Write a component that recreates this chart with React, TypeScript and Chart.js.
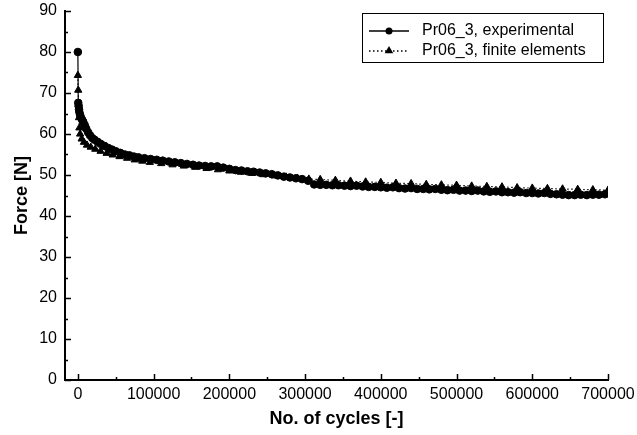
import React, { useEffect, useRef } from 'react';
import { Chart, registerables } from 'chart.js';

Chart.register(...registerables);

const seriesNames = ['Pr06_3, experimental', 'Pr06_3, finite elements'];

const expCycles = [
  0, 500, 1000, 1500, 2000, 3000, 4000, 5500, 7000, 9000, 11000, 13500, 16000, 19000, 22000, 26000,
  30000, 35000, 40000, 45000, 50000, 56000, 62000, 68000, 74000, 80000, 88000, 96000, 104000, 112000,
  120000, 128000, 136000, 144000, 152000, 160000, 168000, 176000, 184000, 192000, 200000, 208000,
  216000, 224000, 232000, 240000, 248000, 256000, 264000, 272000, 280000, 288000, 296000, 304000,
  312000, 320000, 328000, 336000, 344000, 352000, 360000, 368000, 376000, 384000, 392000, 400000,
  408000, 416000, 424000, 432000, 440000, 448000, 456000, 464000, 472000, 480000, 488000, 496000,
  504000, 512000, 520000, 528000, 536000, 544000, 552000, 560000, 568000, 576000, 584000, 592000,
  600000, 608000, 616000, 624000, 632000, 640000, 648000, 656000, 664000, 672000, 680000, 688000, 696000,
];
const expForce = [
  80, 67.6, 66.8, 66, 65.3, 64.6, 64, 63.5, 63, 62.2, 61.3, 60.4, 59.7, 59, 58.6, 58.1,
  57.6, 57.1, 56.6, 56.2, 55.8, 55.4, 55, 54.8, 54.5, 54.3, 54.1, 53.9, 53.7, 53.5,
  53.3, 53.1, 52.9, 52.7, 52.5, 52.3, 52.2, 52.1, 52.1, 51.8, 51.5, 51.2,
  51.1, 50.9, 50.8, 50.6, 50.4, 50.2, 49.9, 49.6, 49.4, 49.2, 49, 48.6,
  47.7, 47.6, 47.6, 47.5, 47.5, 47.4, 47.3, 47.4, 47.2, 47.1, 47.1, 47,
  46.9, 47, 46.8, 46.7, 46.8, 46.6, 46.6, 46.5, 46.6, 46.4, 46.3, 46.4,
  46.2, 46.2, 46.1, 46.2, 46, 45.9, 46, 45.8, 45.8, 45.7, 45.8, 45.6,
  45.6, 45.5, 45.6, 45.4, 45.3, 45.2, 45.1, 45.1, 45.2, 45.1, 45.2, 45.2, 45.3,
];

const feCycles = [
  0, 500, 1000, 1500, 2000, 3000, 5000, 8000, 12000, 17000, 23000, 30000, 38000, 46000, 55000,
  65000, 75000, 85000, 95000, 110000, 125000, 140000, 155000, 170000, 185000, 200000, 215000,
  230000, 245000, 260000, 275000, 290000, 305000, 320000, 340000, 360000, 380000, 400000, 420000,
  440000, 460000, 480000, 500000, 520000, 540000, 560000, 580000, 600000, 620000, 640000, 660000,
  680000, 700000,
];
const feForce = [
  74.3, 70.7, 67.5, 64, 61.5, 60, 58.8, 58, 57.3, 56.8, 56.3, 55.8, 55.3, 54.9, 54.5,
  54.1, 53.7, 53.4, 53.1, 52.8, 52.5, 52.2, 51.9, 51.6, 51.3, 51, 50.7,
  50.4, 50.1, 49.8, 49.5, 49.2, 49, 48.9, 48.7, 48.5, 48.3, 48.2, 48,
  47.9, 47.7, 47.6, 47.5, 47.3, 47.2, 47.1, 46.9, 46.8, 46.7, 46.6, 46.5,
  46.4, 46.3,
];

const xTickValues = [0, 100000, 200000, 300000, 400000, 500000, 600000, 700000];
const xMinorValues = [50000, 150000, 250000, 350000, 450000, 550000, 650000];
const yTickValues = [0, 10, 20, 30, 40, 50, 60, 70, 80, 90];
const yMinorValues = [5, 15, 25, 35, 45, 55, 65, 75, 85];

const FONT = "'Liberation Sans', Arial, sans-serif";

function drawTriangle(ctx: CanvasRenderingContext2D, x: number, y: number, r: number) {
  ctx.beginPath();
  ctx.moveTo(x, y - r);
  ctx.lineTo(x + r * 0.95, y + r * 0.6);
  ctx.lineTo(x - r * 0.95, y + r * 0.6);
  ctx.closePath();
  ctx.fill();
}

function zeroPadding(s: any) {
  s.paddingLeft = 0;
  s.paddingRight = 0;
  s.paddingTop = 0;
  s.paddingBottom = 0;
}

const axisTicksPlugin = {
  id: 'axisTicks',
  afterDraw(chart: any) {
    const { ctx, chartArea, scales } = chart;
    const xs = scales.x;
    const ys = scales.y;
    ctx.save();
    ctx.strokeStyle = '#000';
    ctx.lineWidth = 1.5;
    ctx.beginPath();
    xTickValues.forEach((v) => {
      const p = Math.round(xs.getPixelForValue(v)) + 0.5;
      ctx.moveTo(p, chartArea.bottom);
      ctx.lineTo(p, chartArea.bottom - 6);
    });
    xMinorValues.forEach((v) => {
      const p = Math.round(xs.getPixelForValue(v)) + 0.5;
      ctx.moveTo(p, chartArea.bottom);
      ctx.lineTo(p, chartArea.bottom - 3);
    });
    yTickValues.forEach((v) => {
      const p = Math.round(ys.getPixelForValue(v)) + 0.5;
      ctx.moveTo(chartArea.left, p);
      ctx.lineTo(chartArea.left + 6, p);
    });
    yMinorValues.forEach((v) => {
      const p = Math.round(ys.getPixelForValue(v)) + 0.5;
      ctx.moveTo(chartArea.left, p);
      ctx.lineTo(chartArea.left + 3, p);
    });
    ctx.stroke();

    // legend box
    const bx = 362, by = 13, bw = 241, bh = 49;
    ctx.fillStyle = '#fff';
    ctx.fillRect(bx, by, bw, bh);
    ctx.lineWidth = 1;
    ctx.strokeStyle = '#000';
    ctx.strokeRect(bx + 0.5, by + 0.5, bw, bh);

    const rows = [by + 18, by + 38];
    const lx0 = bx + 7, lx1 = bx + 47, mx = bx + 27;
    ctx.beginPath();
    ctx.lineWidth = 1.5;
    ctx.setLineDash([]);
    ctx.moveTo(lx0, rows[0]);
    ctx.lineTo(lx1, rows[0]);
    ctx.stroke();
    ctx.fillStyle = '#000';
    ctx.beginPath();
    ctx.arc(mx, rows[0], 3.5, 0, Math.PI * 2);
    ctx.fill();
    ctx.beginPath();
    ctx.lineWidth = 1.5;
    ctx.setLineDash([1.5, 2.5]);
    ctx.moveTo(lx0, rows[1]);
    ctx.lineTo(lx1, rows[1]);
    ctx.stroke();
    ctx.setLineDash([]);
    drawTriangle(ctx, mx, rows[1] - 0.5, 4.5);

    ctx.font = `16px ${FONT}`;
    ctx.textBaseline = 'middle';
    ctx.textAlign = 'left';
    ctx.fillStyle = '#000';
    ctx.fillText(seriesNames[0], bx + 60, rows[0]);
    ctx.fillText(seriesNames[1], bx + 60, rows[1]);
    ctx.restore();
  },
};

export default function App() {
  const canvasRef = useRef<HTMLCanvasElement | null>(null);

  useEffect(() => {
    if (!canvasRef.current) return;
    const chart = new Chart(canvasRef.current, {
      type: 'line',
      data: {
        datasets: [
          {
            label: seriesNames[1],
            data: feCycles.map((c, i) => ({ x: c, y: feForce[i] })),
            borderColor: '#000',
            backgroundColor: '#000',
            borderWidth: 1.2,
            borderDash: [1.5, 2.5],
            pointStyle: 'triangle',
            pointRadius: 4.2,
            pointBorderWidth: 1,
            pointBorderColor: '#000',
            pointBackgroundColor: '#000',
            tension: 0,
            order: 2,
          },
          {
            label: seriesNames[0],
            data: expCycles.map((c, i) => ({ x: c, y: expForce[i] })),
            borderColor: '#000',
            backgroundColor: '#000',
            borderWidth: 1.2,
            pointStyle: 'circle',
            pointRadius: 3.8,
            pointBorderWidth: 1,
            pointBorderColor: '#000',
            pointBackgroundColor: '#000',
            tension: 0,
            order: 1,
          },
        ],
      },
      options: {
        responsive: false,
        animation: false,
        devicePixelRatio: 1,
        layout: { padding: { top: 11, right: 29, bottom: 0, left: 0 } },
        plugins: { legend: { display: false }, tooltip: { enabled: false } },
        scales: {
          x: {
            type: 'linear',
            min: -17000,
            max: 700000,
            afterBuildTicks: (s: any) => {
              s.ticks = xTickValues.map((v) => ({ value: v }));
            },
            afterFit: (s: any) => {
              s.height = 55;
              zeroPadding(s);
            },
            grid: { display: false, drawTicks: false },
            border: { display: true, color: '#000', width: 2 },
            ticks: {
              color: '#000',
              font: { family: FONT, size: 16 },
              padding: 5,
              maxRotation: 0,
              autoSkip: false,
              callback: (v: any) => String(v),
            },
            title: {
              display: true,
              text: 'No. of cycles [-]',
              color: '#000',
              font: { family: FONT, size: 18, weight: 'bold' },
              padding: { top: 0, bottom: 5 },
            },
          },
          y: {
            type: 'linear',
            min: 0,
            max: 90,
            afterBuildTicks: (s: any) => {
              s.ticks = yTickValues.map((v) => ({ value: v }));
            },
            afterFit: (s: any) => {
              s.width = 65;
              zeroPadding(s);
            },
            grid: { display: false, drawTicks: false },
            border: { display: true, color: '#000', width: 2 },
            ticks: {
              color: '#000',
              font: { family: FONT, size: 16 },
              padding: 8,
              autoSkip: false,
              callback: (v: any) => String(v),
            },
            title: {
              display: true,
              text: 'Force [N]',
              color: '#000',
              font: { family: FONT, size: 18, weight: 'bold' },
              padding: { top: 11, bottom: 0 },
            },
          },
        },
      },
      plugins: [axisTicksPlugin],
    });
    return () => chart.destroy();
  }, []);

  return (
    <div style={{ position: 'fixed', left: 0, top: 0, width: 637, height: 435, background: '#fff' }}>
      <canvas ref={canvasRef} width={637} height={435} style={{ width: 637, height: 435 }} />
    </div>
  );
}
